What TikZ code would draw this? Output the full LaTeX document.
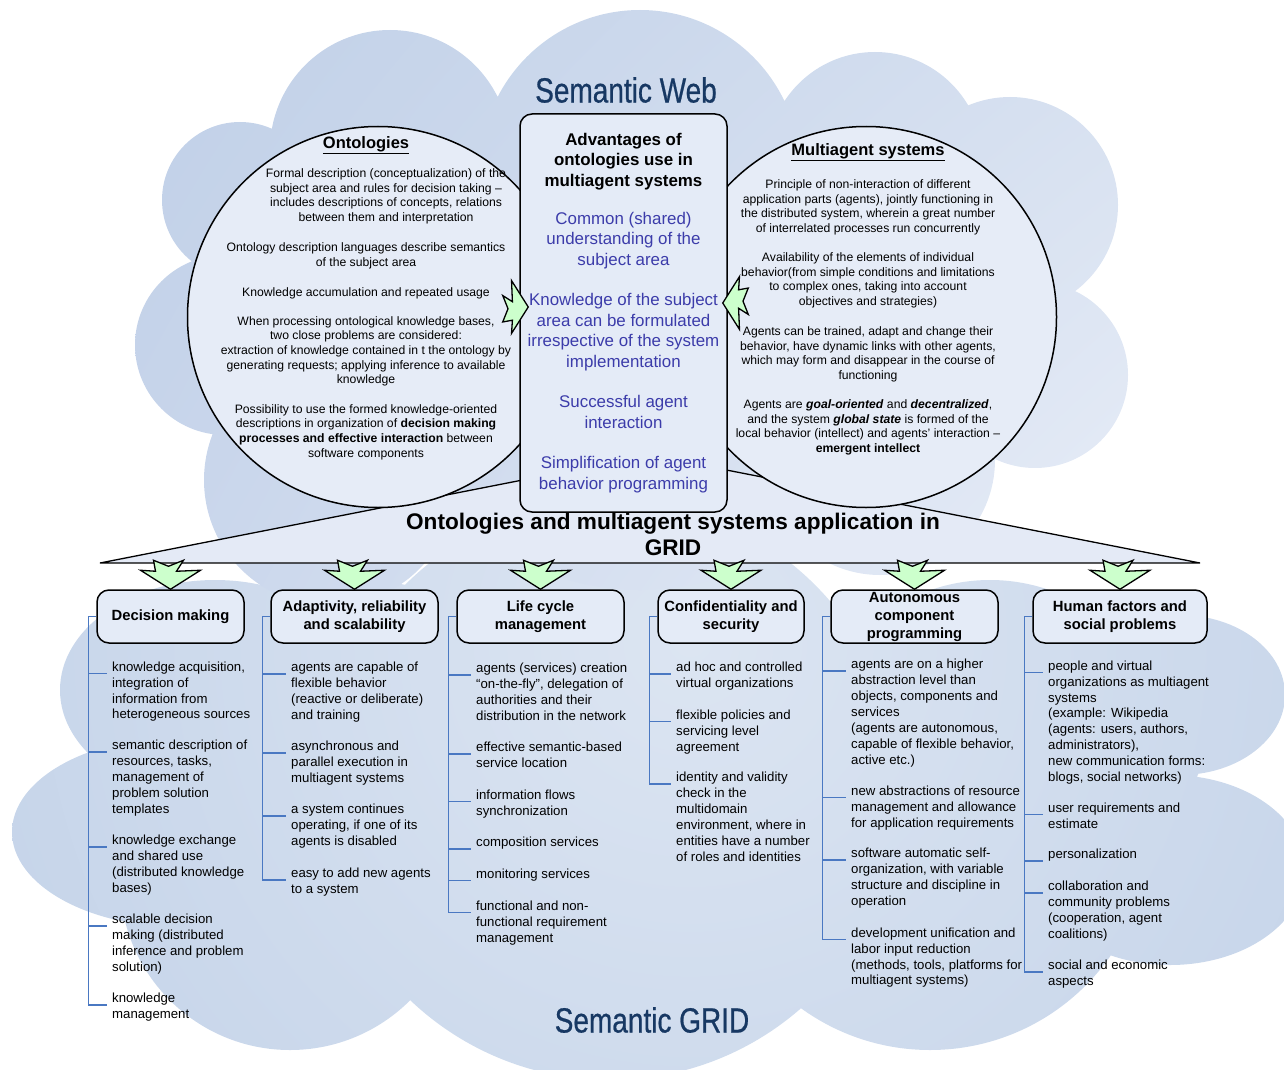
\documentclass[tikz,border=0pt]{standalone}
\usepackage{fontspec}
\setmainfont{Liberation Sans}
\newfontfamily\cloudfont[FakeStretch=0.8,FakeBold=0.6]{Liberation Sans}
\usetikzlibrary{positioning,shadings}

\definecolor{webul}{HTML}{BFCFE7}
\definecolor{webur}{HTML}{D6E0F0}
\definecolor{webll}{HTML}{C8D5EB}
\definecolor{weblr}{HTML}{EAEFF8}
\definecolor{gridin}{HTML}{DCE5F2}
\definecolor{gridout}{HTML}{B5C8E3}
\definecolor{funnelfill}{HTML}{E4EAF6}
\definecolor{bubblefill}{HTML}{E6ECF7}
\definecolor{boxfill}{HTML}{E4EBF7}
\definecolor{cloudblue}{HTML}{173863}
\definecolor{advblue}{HTML}{3C3CAA}
\definecolor{branchblue}{HTML}{4A78C2}
\definecolor{boltgreen}{HTML}{CCFFCC}

\newcommand{\advhead}[1]{\textcolor{black}{\textbf{#1}}}

\tikzset{
  cloudname/.style={font=\cloudfont\fontsize{35pt}{40pt}\selectfont, text=cloudblue, inner sep=0pt},
  bubble/.style={circle, draw, line width=1.5pt, fill=bubblefill, inner sep=0pt, minimum size=381pt},
  bubblehead/.style={font=\bfseries\fontsize{16.5pt}{19pt}\selectfont, inner sep=0pt},
  bubbletext/.style={anchor=north, align=center, inner sep=0pt, font=\fontsize{12.2pt}{14.7pt}\selectfont},
  advbox/.style={draw, line width=1.5pt, rounded corners=12pt, fill=boxfill, align=center, inner sep=0pt, text=advblue, font=\fontsize{16.9pt}{20.5pt}\selectfont},
  headbox/.style={draw, line width=1.5pt, rounded corners=12pt, fill=boxfill, minimum height=53pt, align=center, inner sep=0pt, font=\bfseries\fontsize{14.8pt}{18pt}\selectfont},
  entry/.style={anchor=north west, align=left, inner sep=0pt, font=\fontsize{13.2pt}{15.9pt}\selectfont},
  branch/.style={draw=branchblue, line width=1.2pt},
  bolt/.pic={\filldraw[fill=boltgreen, line width=1.3pt, line join=miter] (0,0) -- (-30,-19) -- (-15,-18) -- (-17,-29) -- (-2,-23) -- (13,-29) -- (6,-18) -- (30,-19) -- cycle;}
}

\begin{document}
\begin{tikzpicture}[x=1pt,y=-1pt]
\useasboundingbox (0,0) rectangle (1284,1070);

\begin{scope}
  \clip (215,690) ellipse [x radius=155pt, y radius=110pt]
        (180,832) ellipse [x radius=168pt, y radius=95pt]
        (290,880) circle [radius=170pt]
        (610,790) circle [radius=290pt]
        (930,830) circle [radius=220pt]
        (1170,870) ellipse [x radius=135pt, y radius=95pt]
        (1180,695) ellipse [x radius=105pt, y radius=80pt]
        (360,790) circle [radius=210pt]
        (990,760) circle [radius=180pt]
        (1080,720) circle [radius=130pt];
  \shade[inner color=gridin, outer color=gridout] (690,640) circle [radius=1300pt];
\end{scope}

\begin{scope}
  \clip (240,200) circle [radius=78pt]
        (390,150) circle [radius=120pt]
        (640,170) circle [radius=160pt]
        (875,160) circle [radius=108pt]
        (1010,205) circle [radius=108pt]
        (1035,375) circle [radius=93pt]
        (880,460) circle [radius=115pt]
        (225,345) circle [radius=90pt]
        (330,480) circle [radius=126pt]
        (640,330) circle [radius=260pt]
        (450,400) circle [radius=150pt]
        (820,380) circle [radius=150pt];
  \shade[upper left=webul, upper right=webur, lower left=webll, lower right=weblr] (100,0) rectangle (1180,620);
\end{scope}

\filldraw[fill=funnelfill, line width=1.3pt, line join=bevel] (100,563) -- (650,455) -- (1200,563) -- cycle;

\node[bubble] (onto) at (378,317) {};
\node[bubble] (mas) at (866,317) {};

\node[bubblehead] (ontohead) at (366,145) {\underline{Ontologies}};
\node[bubbletext] (onto1) at (386,168.5) {Formal description (conceptualization) of the\\ subject area and rules for decision taking –\\ includes descriptions of concepts, relations\\ between them and interpretation};
\node[bubbletext] (onto2) at (366,242.5) {Ontology description languages describe semantics\\ of the subject area};
\node[bubbletext] (onto3) at (366,287) {Knowledge accumulation and repeated usage};
\node[bubbletext] (onto4) at (366,316) {When processing ontological knowledge bases,\\ two close problems are considered:\\ extraction of knowledge contained in t the ontology by\\ generating requests; applying inference to available\\ knowledge};
\node[bubbletext] (onto5) at (366,404) {Possibility to use the formed knowledge-oriented\\ descriptions in organization of \textbf{decision making}\\ \textbf{processes and effective interaction} between\\ software components};

\node[bubblehead] (mashead) at (868,152) {\underline{Multiagent systems}};
\node[bubbletext] (mas1) at (868,179.5) {Principle of non-interaction of different\\ application parts (agents), jointly functioning in\\ the distributed system, wherein a great number\\ of interrelated processes run concurrently};
\node[bubbletext] (mas2) at (868,252.5) {Availability of the elements of individual\\ behavior(from simple conditions and limitations\\ to complex ones, taking into account\\ objectives and strategies)};
\node[bubbletext] (mas3) at (868,326.5) {Agents can be trained, adapt and change their\\ behavior, have dynamic links with other agents,\\ which may form and disappear in the course of\\ functioning};
\node[bubbletext] (mas4) at (868,399.5) {Agents are \textbf{\textit{goal-oriented}} and \textbf{\textit{decentralized}},\\ and the system \textbf{\textit{global state}} is formed of the\\ local behavior (intellect) and agents’ interaction –\\ \textbf{emergent intellect}};

\node[advbox, minimum width=207pt, minimum height=398pt] (adv) at (623.5,313) {\advhead{Advantages of}\\ \advhead{ontologies use in}\\ \advhead{multiagent systems}\\[17.5pt]
  Common (shared)\\ understanding of the\\ subject area\\[20pt]
  Knowledge of the subject\\ area can be formulated\\ irrespective of the system\\ implementation\\[20pt]
  Successful agent\\ interaction\\[20pt]
  Simplification of agent\\ behavior programming};

\pic[rotate=90, scale=0.88] at ([xshift=9pt,yshift=6pt]adv.west) {bolt};
\pic[rotate=-90, scale=0.88] at ([xshift=-5pt,yshift=10pt]adv.east) {bolt};

\node[font=\bfseries\fontsize{22.6pt}{26pt}\selectfont, align=center, inner sep=0pt] (apptitle) at (673,534.5) {Ontologies and multiagent systems application in\\ GRID};

\node[headbox, minimum width=147pt] (h1) at (170.5,616.5) {Decision making};
\node[headbox, minimum width=167pt] (h2) at (354.5,616.5) {Adaptivity, reliability\\ and scalability};
\node[headbox, minimum width=167pt] (h3) at (540.5,616.5) {Life cycle\\ management};
\node[headbox, minimum width=146pt] (h4) at (731,616.5) {Confidentiality and\\ security};
\node[headbox, minimum width=167pt] (h5) at (914.5,616.5) {Autonomous\\ component\\ programming};
\node[headbox, minimum width=174pt] (h6) at (1120,616.5) {Human factors and\\ social problems};

\foreach \i in {1,...,6} \pic at (h\i.north) {bolt};

\node[entry] (e11) at (112,661.5) {knowledge acquisition,\\ integration of\\ information from\\ heterogeneous sources};
\node[entry] (e12) at (112,740) {semantic description of\\ resources, tasks,\\ management of\\ problem solution\\ templates};
\node[entry] (e13) at (112,835) {knowledge exchange\\ and shared use\\ (distributed knowledge\\ bases)};
\node[entry] (e14) at (112,914) {scalable decision\\ making (distributed\\ inference and problem\\ solution)};
\node[entry] (e15) at (112,993) {knowledge\\ management};

\node[entry] (e21) at (291,662) {agents are capable of\\ flexible behavior\\ (reactive or deliberate)\\ and training};
\node[entry] (e22) at (291,741) {asynchronous and\\ parallel execution in\\ multiagent systems};
\node[entry] (e23) at (291,804) {a system continues\\ operating, if one of its\\ agents is disabled};
\node[entry] (e24) at (291,868) {easy to add new agents\\ to a system};

\node[entry] (e31) at (476,663) {agents (services) creation\\ “on-the-fly”, delegation of\\ authorities and their\\ distribution in the network};
\node[entry] (e32) at (476,742) {effective semantic-based\\ service location};
\node[entry] (e33) at (476,789.5) {information flows\\ synchronization};
\node[entry] (e34) at (476,837) {composition services};
\node[entry] (e35) at (476,868.5) {monitoring services};
\node[entry] (e36) at (476,900.5) {functional and non-\\ functional requirement\\ management};

\node[entry] (e41) at (676,662) {ad hoc and controlled\\ virtual organizations};
\node[entry] (e42) at (676,709.5) {flexible policies and\\ servicing level\\ agreement};
\node[entry] (e43) at (676,772) {identity and validity\\ check in the\\ multidomain\\ environment, where in\\ entities have a number\\ of roles and identities};

\node[entry] (e51) at (851,659) {agents are on a higher\\ abstraction level than\\ objects, components and\\ services\\ (agents are autonomous,\\ capable of flexible behavior,\\ active etc.)};
\node[entry] (e52) at (851,785.5) {new abstractions of resource\\ management and allowance\\ for application requirements};
\node[entry] (e53) at (851,848) {software automatic self-\\ organization, with variable\\ structure and discipline in\\ operation};
\node[entry] (e54) at (851,927.5) {development unification and\\ labor input reduction\\ (methods, tools, platforms for\\ multiagent systems)};

\node[entry] (e61) at (1048,660.5) {people and virtual\\ organizations as multiagent\\ systems\\ (example: Wikipedia\\ (agents: users, authors,\\ administrators),\\ new communication forms:\\ blogs, social networks)};
\node[entry] (e62) at (1048,802.5) {user requirements and\\ estimate};
\node[entry] (e63) at (1048,849) {personalization};
\node[entry] (e64) at (1048,881) {collaboration and\\ community problems\\ (cooperation, agent\\ coalitions)};
\node[entry] (e65) at (1048,960) {social and economic\\ aspects};

\foreach \c/\last in {1/5,2/4,3/6,4/3,5/4,6/5}{
  \coordinate (b\c) at ([xshift=-8pt]h\c.west);
  \draw[branch] (h\c.west) -- (b\c) |- ([xshift=-5pt,yshift=-12pt]e\c\last.north west);
  \foreach \i in {1,...,\last}
    \draw[branch] (b\c |- e\c\i.north) ++(0,12) -- ([xshift=-5pt,yshift=-12pt]e\c\i.north west);
}

\node[cloudname] (webname) at (626,90) {Semantic Web};
\node[cloudname] (gridname) at (652,1020) {Semantic GRID};
\end{tikzpicture}
\end{document}
